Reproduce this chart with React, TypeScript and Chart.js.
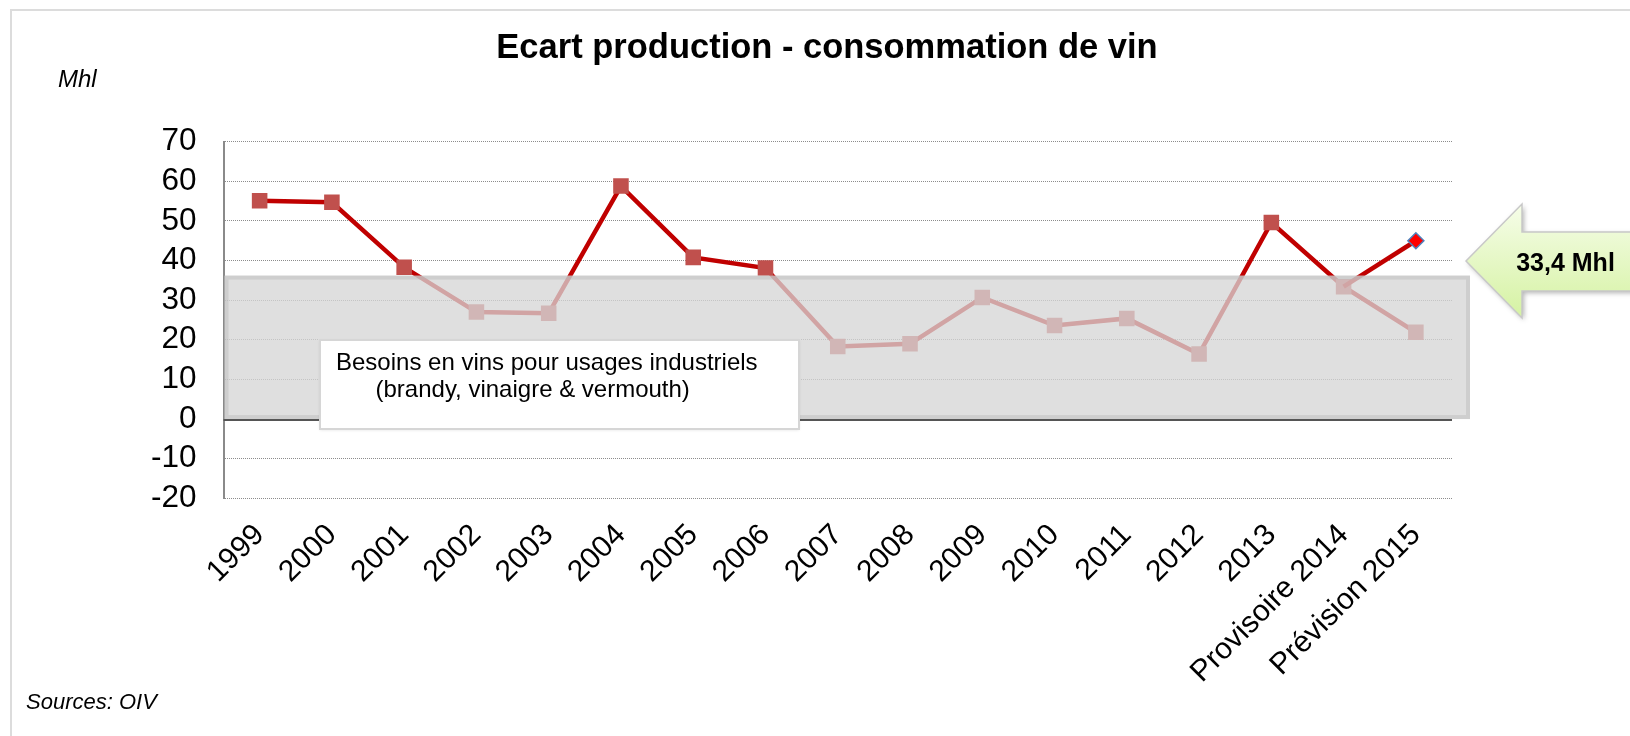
import React, { useEffect, useRef } from 'react';
import { Chart, registerables } from 'chart.js';

Chart.register(...registerables);

const FONT = '"Liberation Sans", Arial, sans-serif';

const categories = [
  '1999', '2000', '2001', '2002', '2003', '2004', '2005', '2006', '2007',
  '2008', '2009', '2010', '2011', '2012', '2013', 'Provisoire 2014', 'Prévision 2015',
];
// Ecart production - consommation (Mhl)
const ecartValues = [
  55.1, 54.7, 38.3, 27.0, 26.7, 58.8, 40.8, 38.1, 18.3,
  19.0, 30.7, 23.6, 25.4, 16.4, 49.6, 33.4, 21.9,
];
// Prévision haute 2015
const previsionHaute = [
  null, null, null, null, null, null, null, null, null,
  null, null, null, null, null, null, 33.4, 45.0,
];
const yMin = -20;
const yMax = 70;
const yStep = 10;
// Besoins industriels (band from 0 to this value, Mhl)
const besoinsIndustriels = 36.2;

const titleText = 'Ecart production - consommation de vin';
const unitText = 'Mhl';
const sourceText = 'Sources: OIV';
const boxLine1 = 'Besoins en vins pour usages industriels';
const boxLine2 = '(brandy, vinaigre & vermouth)';
const calloutText = '33,4 Mhl';

function arrowPath(ctx: CanvasRenderingContext2D) {
  ctx.beginPath();
  ctx.moveTo(1466, 261);
  ctx.lineTo(1522, 204);
  ctx.lineTo(1522, 232);
  ctx.lineTo(1640, 232);
  ctx.lineTo(1640, 291);
  ctx.lineTo(1522, 291);
  ctx.lineTo(1522, 318);
  ctx.closePath();
}

const overlayPlugin = {
  id: 'overlayPlugin',
  beforeDraw(chart: any) {
    const ctx = chart.ctx;
    ctx.save();
    ctx.fillStyle = '#ffffff';
    ctx.fillRect(0, 0, chart.width, chart.height);
    // frame
    ctx.strokeStyle = '#dcdcdc';
    ctx.lineWidth = 2;
    ctx.beginPath();
    ctx.moveTo(11, chart.height);
    ctx.lineTo(11, 10);
    ctx.lineTo(chart.width, 10);
    ctx.stroke();
    // title
    ctx.fillStyle = '#000';
    ctx.font = `bold 34.5px ${FONT}`;
    ctx.textAlign = 'center';
    ctx.textBaseline = 'alphabetic';
    ctx.fillText(titleText, 827, 58);
    // unit
    ctx.font = `italic 24px ${FONT}`;
    ctx.textAlign = 'left';
    ctx.fillText(unitText, 58, 87);
    // source
    ctx.font = `italic 22px ${FONT}`;
    ctx.fillText(sourceText, 26, 709);
    ctx.restore();
  },
  afterDatasetsDraw(chart: any) {
    const ctx = chart.ctx;
    const area = chart.chartArea;
    const y = chart.scales.y;
    const yTop = y.getPixelForValue(besoinsIndustriels);
    const yZero = y.getPixelForValue(0);
    ctx.save();
    // grey band
    const bx = area.left + 1;
    const bw = area.right + 18 - bx;
    const bh = yZero - yTop;
    ctx.fillStyle = 'rgba(213,213,213,0.77)';
    ctx.fillRect(bx, yTop, bw, bh);
    ctx.strokeStyle = 'rgba(180,180,180,0.4)';
    ctx.lineWidth = 4;
    ctx.strokeRect(bx + 2, yTop + 2, bw - 4, bh - 4);
    // zero line
    ctx.strokeStyle = '#555555';
    ctx.lineWidth = 2;
    ctx.beginPath();
    ctx.moveTo(area.left, yZero + 1);
    ctx.lineTo(area.right, yZero + 1);
    ctx.stroke();
    // text box
    ctx.save();
    ctx.shadowColor = 'rgba(0,0,0,0.12)';
    ctx.shadowBlur = 3;
    ctx.shadowOffsetY = 1;
    ctx.fillStyle = '#ffffff';
    ctx.fillRect(320, 340, 479, 89);
    ctx.restore();
    ctx.strokeStyle = '#d6d6d6';
    ctx.lineWidth = 2;
    ctx.strokeRect(320, 340, 479, 89);
    ctx.fillStyle = '#000';
    ctx.font = `24px ${FONT}`;
    ctx.textAlign = 'left';
    ctx.textBaseline = 'alphabetic';
    ctx.fillText(boxLine1, 336, 369.5);
    ctx.fillText(boxLine2, 375.5, 396.5);
    // callout arrow
    ctx.save();
    ctx.shadowColor = 'rgba(0,0,0,0.3)';
    ctx.shadowBlur = 5;
    ctx.shadowOffsetX = 2;
    ctx.shadowOffsetY = 2;
    const grad = ctx.createLinearGradient(0, 204, 0, 318);
    grad.addColorStop(0, '#f6fde9');
    grad.addColorStop(1, '#d5f2a2');
    ctx.fillStyle = grad;
    arrowPath(ctx);
    ctx.fill();
    ctx.restore();
    ctx.strokeStyle = '#c8c8c8';
    ctx.lineWidth = 1.5;
    arrowPath(ctx);
    ctx.stroke();
    ctx.fillStyle = '#000';
    ctx.font = `bold 25px ${FONT}`;
    ctx.textAlign = 'center';
    ctx.fillText(calloutText, 1565.5, 271);
    ctx.restore();
  },
};

export default function App() {
  const canvasRef = useRef<HTMLCanvasElement | null>(null);

  useEffect(() => {
    if (!canvasRef.current) return;
    const chart = new Chart(canvasRef.current, {
      type: 'line',
      data: {
        labels: categories,
        datasets: [
          {
            label: 'Ecart',
            data: ecartValues,
            borderColor: '#c00000',
            borderWidth: 4.5,
            pointStyle: 'rect',
            pointRadius: 11,
            pointBackgroundColor: '#c0504d',
            pointBorderWidth: 0,
            pointHoverRadius: 11,
            tension: 0,
            order: 2,
          },
          {
            label: 'Prévision haute',
            data: previsionHaute as any,
            borderColor: '#c00000',
            borderWidth: 4.5,
            pointStyle: 'rectRot',
            pointRadius: previsionHaute.map((v, i) => (i === previsionHaute.length - 1 ? 8 : 0)),
            pointBackgroundColor: '#ff0000',
            pointBorderColor: '#4f81bd',
            pointBorderWidth: 1.5,
            tension: 0,
            order: 1,
          },
        ],
      },
      options: {
        responsive: false,
        animation: false,
        events: [],
        layout: { padding: { left: 0, right: 178, top: 141.7, bottom: 0 } },
        plugins: {
          legend: { display: false },
          title: { display: false },
          tooltip: { enabled: false },
        },
        scales: {
          x: {
            type: 'category',
            offset: true,
            grid: { display: false, drawTicks: false },
            border: { display: false },
            ticks: {
              autoSkip: false,
              minRotation: 45,
              maxRotation: 45,
              padding: 19,
              color: '#000',
              font: { family: FONT, size: 30 },
            },
            afterFit(scale: any) {
              scale.height = 736 - 498.3;
            },
          },
          y: {
            min: yMin,
            max: yMax,
            ticks: {
              stepSize: yStep,
              autoSkip: false,
              padding: 27,
              color: '#000',
              font: { family: FONT, size: 31.5 },
              callback: (v: any) => String(v),
            },
            grid: {
              drawTicks: false,
              lineWidth: 1,
              color: (c: any) => (c.tick && c.tick.value === 0 ? 'rgba(0,0,0,0)' : '#8c8c8c'),
            },
            border: { display: true, color: '#8a8a8a', width: 2, dash: [1, 1] },
            afterFit(scale: any) {
              scale.width = 223.5;
            },
          },
        },
      },
      plugins: [overlayPlugin],
    });
    return () => chart.destroy();
  }, []);

  return (
    <div style={{ position: 'absolute', left: 0, top: 0, width: 1630, height: 736, overflow: 'hidden' }}>
      <canvas ref={canvasRef} width={1630} height={736} style={{ display: 'block' }} />
    </div>
  );
}
